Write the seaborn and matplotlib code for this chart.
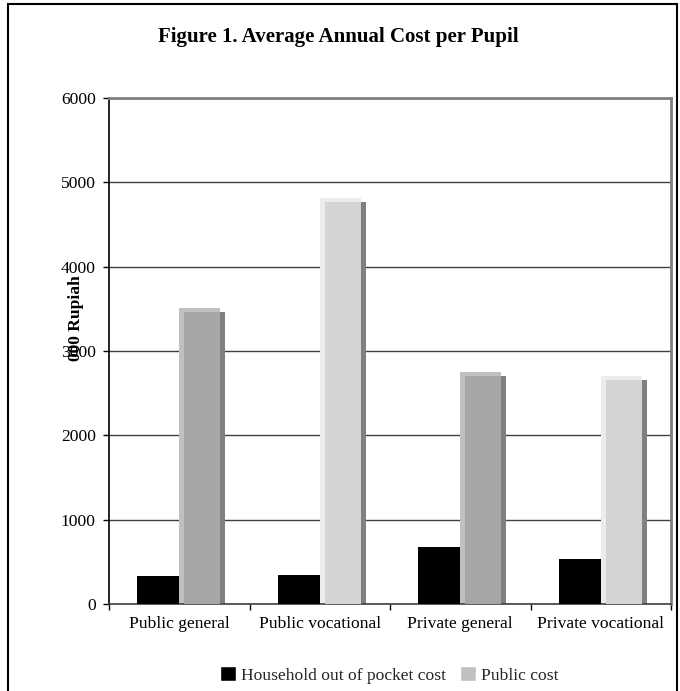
import pandas as pd
import matplotlib.pyplot as plt
import seaborn as sns
from matplotlib.patches import Rectangle, Patch

# Data (values in thousand Rupiah)
categories = ["Public general", "Public vocational", "Private general", "Private vocational"]
household_cost = [330, 345, 675, 535]
public_cost = [3465, 4765, 2705, 2655]
series_names = ["Household out of pocket cost", "Public cost"]

df = pd.DataFrame({
    "category": categories * 2,
    "cost": household_cost + public_cost,
    "series": [series_names[0]] * len(categories) + [series_names[1]] * len(categories),
})

sns.set_theme(style="white")
plt.rcParams["font.family"] = ["Liberation Serif", "DejaVu Serif"]

W, H = 680, 691
fig = plt.figure(figsize=(W / 100, H / 100), dpi=100)
ax_left, ax_right, ax_top, ax_bottom = 109, 671, 98, 604
ax = fig.add_axes([ax_left / W, 1 - ax_bottom / H, (ax_right - ax_left) / W, (ax_bottom - ax_top) / H])

sns.barplot(
    data=df, x="category", y="cost", hue="series",
    order=categories, hue_order=series_names,
    palette={series_names[0]: "black", series_names[1]: "#c0c0c0"},
    width=0.6, saturation=1, errorbar=None, legend=False, linewidth=0, ax=ax,
)

ax.set_xlim(-0.5, len(categories) - 0.5)
ax.set_ylim(0, 6000)

# pixel -> data unit conversion for the pseudo-3D shading
dx = len(categories) / (ax_right - ax_left)
dy = 6000 / (ax_bottom - ax_top)

front_colors = ["#a6a6a6", "#d4d4d4", "#a6a6a6", "#d4d4d4"]
light_colors = ["#c0c0c0", "#ececec", "#c0c0c0", "#ececec"]

bars = sorted(ax.patches, key=lambda p: p.get_x())
black_bars = [p for p in bars if p.get_facecolor()[0] < 0.1]
gray_bars = [p for p in bars if p.get_facecolor()[0] >= 0.1]

for p in black_bars:
    p.set_zorder(4)

for i, p in enumerate(gray_bars):
    x, w, h = p.get_x(), p.get_width(), p.get_height()
    ax.add_patch(Rectangle((x, 0), 41 * dx, h + 4 * dy, fc=light_colors[i], lw=0, zorder=2))
    ax.add_patch(Rectangle((x + 41 * dx, 0), 5 * dx, h, fc="#808080", lw=0, zorder=2))
    p.set_x(x + 5 * dx)
    p.set_width(36 * dx)
    p.set_facecolor(front_colors[i])
    p.set_zorder(3)

# grid and spines
ax.set_axisbelow(True)
ax.set_yticks(range(0, 6001, 1000))
ax.yaxis.grid(True, color="#404040", lw=1)
ax.xaxis.grid(False)
ax.spines["left"].set_color("black")
ax.spines["left"].set_linewidth(1.2)
ax.spines["bottom"].set_color("#404040")
ax.spines["bottom"].set_linewidth(1.2)
ax.spines["top"].set_color("#808080")
ax.spines["top"].set_linewidth(2)
ax.spines["right"].set_color("#808080")
ax.spines["right"].set_linewidth(2)

fs = 12.6
ax.tick_params(axis="y", left=True, length=4.5, width=1, color="black", pad=5, labelsize=fs, labelcolor="black")
ax.tick_params(axis="x", which="major", length=0, pad=9, labelsize=fs, labelcolor="black")
ax.set_xticks([k - 0.5 for k in range(len(categories) + 1)], minor=True)
ax.tick_params(axis="x", which="minor", bottom=True, length=4, width=1, color="black")

ax.set_xlabel("")
ax.set_ylabel("000 Rupiah", fontsize=fs, fontweight="bold", color="black")
ax.yaxis.set_label_coords(-0.044, 0.565)

fig.text(338 / W, 1 - 37 / H, "Figure 1. Average Annual Cost per Pupil",
         ha="center", va="center", fontsize=15, fontweight="bold", color="black")

fig.legend(
    handles=[Patch(fc="black"), Patch(fc="#c0c0c0")], labels=series_names,
    loc="center", bbox_to_anchor=(389 / W, 1 - 675 / H), ncol=2, frameon=False,
    fontsize=fs, handlelength=0.9, handleheight=0.9, handletextpad=0.3, columnspacing=0.8,
)

# outer frame around the whole chart
fig.add_artist(Rectangle((8 / W, -0.1), 669 / W, 1 - 4 / H + 0.1, transform=fig.transFigure,
                         fill=False, ec="black", lw=1.5))

fig.savefig("out.png", dpi=100)
